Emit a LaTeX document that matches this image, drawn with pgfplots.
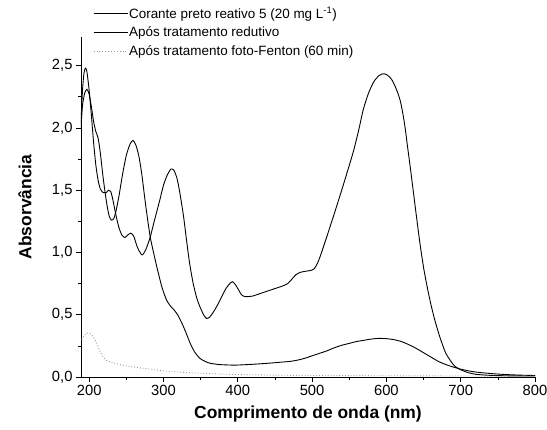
\documentclass[border=0pt]{standalone}
\usepackage{fontspec}
\setmainfont{Liberation Sans}
\usepackage{pgfplots}
\pgfplotsset{compat=1.18}
\begin{document}
\begin{tikzpicture}
\path[use as bounding box] (-81bp,-53bp) rectangle (466bp,377bp);
\begin{axis}[
  at={(0,0)}, anchor=south west,
  scale only axis, width=454bp, height=340bp,
  xmin=189, xmax=800, ymin=0, ymax=2.73,
  axis x line*=bottom, axis y line*=left,
  axis line style={line width=0.8bp},
  tick align=outside,
  major tick length=5bp, minor tick length=3bp,
  every tick/.style={line width=0.7bp, black},
  xtick={200,300,...,800}, minor x tick num=1,
  ytick={0,0.5,1,1.5,2,2.5}, minor y tick num=1,
  /pgf/number format/assume math mode=true,
  yticklabel style={/pgf/number format/.cd, use comma, fixed, fixed zerofill, precision=1},
  xticklabel style={/pgf/number format/.cd, fixed, precision=0},
  tick label style={font=\fontsize{14.8}{17}\selectfont},
  every axis y label/.style={at={(axis description cs:0,0.5)}, xshift=-56bp, rotate=90, anchor=center, font=\fontsize{17.5}{20}\selectfont\bfseries},
  every axis x label/.style={at={(axis description cs:0.5,0)}, anchor=center, yshift=-37bp, font=\fontsize{17.5}{20}\selectfont\bfseries},
  xlabel={Comprimento de onda (nm)},
  ylabel={Absorvância},
  legend cell align=left,
  legend style={draw=none, fill=none, at={(0.0264,1.092)}, anchor=north west,
    font=\fontsize{13.5}{16}\selectfont, inner sep=0pt, row sep=5bp,
    nodes={inner sep=1bp}},
  legend image code/.code={\draw[#1] (0bp,0bp) -- (34bp,0bp);},
]
\addplot[black, line width=0.9bp, smooth, tension=0.4] coordinates {
(189,2.05) (191,2.30) (193,2.44) (195,2.48) (197,2.45) (200,2.30) (203,2.10)
(206,1.88) (209,1.70) (212,1.58) (215,1.51) (219,1.48) (223,1.48) (226,1.50)
(229,1.49) (232,1.42) (236,1.30) (240,1.20) (244,1.14) (248,1.12) (252,1.14)
(256,1.155) (260,1.13) (265,1.04) (271,0.98) (276,1.02) (282,1.12)
(288,1.26) (295,1.42) (300,1.54) (305,1.62) (310,1.67) (314,1.66) (318,1.60)
(322,1.48) (327,1.29) (331,1.10) (335,0.92) (340,0.75) (345,0.63) (349,0.565)
(354,0.50) (358,0.47) (362,0.48) (367,0.52) (372,0.57) (378,0.64) (384,0.71)
(390,0.755) (393,0.765) (397,0.74) (401,0.70) (405,0.66) (410,0.645) (420,0.65)
(430,0.67) (440,0.69) (450,0.71) (460,0.73) (467,0.75) (472,0.78) (478,0.82)
(484,0.84) (492,0.85) (498,0.855) (503,0.87) (507,0.91) (511,0.97) (520,1.13)
(533,1.37) (545,1.60) (556,1.82) (563,1.99) (569,2.15) (576,2.28) (583,2.37)
(590,2.42) (596,2.435) (601,2.425) (607,2.39) (612,2.33) (616,2.27) (619,2.21)
(622,2.12) (625,2.01) (628,1.87) (632,1.69) (636,1.50) (640,1.31) (645,1.08)
(650,0.88) (655,0.72) (660,0.58) (665,0.46) (672,0.32) (680,0.19) (690,0.10)
(695,0.075) (700,0.058) (710,0.035) (720,0.022) (740,0.013) (770,0.009) (800,0.008)
};
\addlegendentry{Corante preto reativo 5 (20 mg L\textsuperscript{-1})}
\addplot[black, line width=0.9bp, smooth, tension=0.4] coordinates {
(189,2.00) (191,2.18) (194,2.28) (197,2.31) (200,2.27) (203,2.17) (206,2.05)
(209,1.97) (212,1.92) (215,1.80) (218,1.64) (221,1.50) (224,1.38) (227,1.29)
(230,1.26) (233,1.27) (236,1.33) (240,1.45) (245,1.63) (250,1.78) (255,1.87)
(259,1.90) (263,1.86) (267,1.77) (271,1.62) (276,1.38) (282,1.13) (287,0.99)
(292,0.86) (298,0.72) (304,0.62) (310,0.565) (314,0.54) (319,0.50) (325,0.43)
(330,0.36) (336,0.27) (342,0.20) (349,0.15) (356,0.125) (363,0.11)
(375,0.10) (390,0.096) (400,0.096) (420,0.102) (440,0.11)
(460,0.12) (470,0.125) (480,0.135) (490,0.15) (500,0.17) (510,0.19) (520,0.21)
(530,0.235) (540,0.255) (550,0.27) (560,0.285) (570,0.295) (580,0.305) (590,0.31)
(600,0.308) (610,0.30) (620,0.285) (630,0.26) (640,0.23) (650,0.195) (660,0.16)
(670,0.125) (680,0.10) (690,0.08) (700,0.063) (710,0.05) (720,0.04) (740,0.028)
(760,0.02) (780,0.015) (800,0.012)
};
\addlegendentry{Após tratamento redutivo}
\addplot[gray!80, line width=0.9bp, dotted, smooth, tension=0.4] coordinates {
(190,0.30) (193,0.33) (196,0.35) (199,0.355) (203,0.34) (207,0.31) (211,0.26)
(215,0.20) (219,0.16) (223,0.135) (228,0.12) (235,0.11) (245,0.095) (260,0.08)
(280,0.065) (300,0.05) (325,0.038) (350,0.03) (375,0.024) (400,0.02) (450,0.015)
(500,0.012) (600,0.01) (700,0.008) (800,0.007)
};
\addlegendentry{Após tratamento foto-Fenton (60 min)}
\end{axis}
\end{tikzpicture}
\end{document}
